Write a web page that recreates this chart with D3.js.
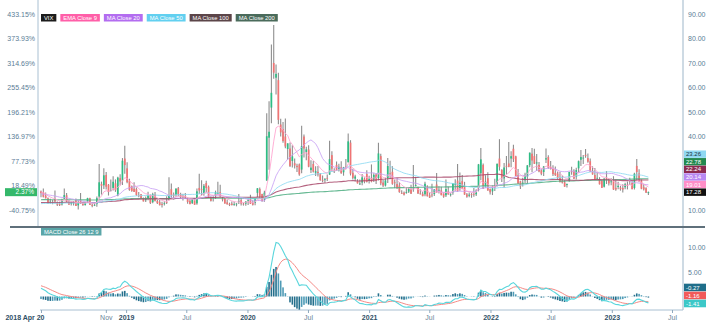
<!DOCTYPE html>
<html>
<head>
<meta charset="utf-8">
<script src="https://cdn.jsdelivr.net/npm/d3@7"></script>
<style>
body { margin: 0; background: #fff; }
svg { display: block; font-family: "Liberation Sans", Arial, sans-serif; }
.axis text { fill: #5b7d96; font-size: 7px; }
.axis path, .axis line { stroke: none; }
</style>
</head>
<body>
<svg id="chart" width="715" height="329"></svg>
<script>
// weekly VIX bars, first bar on this date, one bar every 7 days
var startDate = "2018-04-20";

var opens = [
  17.6,17.3,15.9,14.8,13.0,13.3,14.6,13.2,12.5,12.3,14.6,16.0,13.0,12.8,12.9,14.0,11.9,14.0,12.6,12.0,13.5,14.8,12.1,11.9,12.4,15.5,20.6,20.1,24.3,20.3,17.9,19.0,20.9,16.0,23.0,22.0,31.0,
  27.0,21.9,19.7,18.7,18.5,16.0,16.4,14.8,14.0,14.5,15.9,13.2,16.3,13.7,13.2,12.5,12.6,13.2,14.2,18.5,16.3,16.1,18.9,16.5,15.7,15.6,14.5,13.7,12.8,14.0,12.7,19.0,18.5,16.8,21.0,19.5,15.2,14.9,16.0,16.5,17.3,14.6,14.6,13.1,12.5,12.6,12.3,12.3,13.4,14.0,12.6,12.6,
  13.8,14.6,12.8,12.9,17.0,18.6,16.5,14.3,22.0,39.5,51.8,70.0,64.0,63.0,44.9,43.0,40.0,34.9,35.1,30.0,29.1,28.0,28.6,26.5,40.0,33.7,34.7,26.3,28.8,25.2,25.6,24.6,22.3,22.3,23.1,24.5,32.4,26.0,28.4,26.2,27.5,25.4,27.7,29.5,37.5,25.2,22.8,21.8,20.7,21.2,22.8,24.7,
  21.9,23.0,22.4,24.5,23.0,32.0,21.2,20.0,23.0,25.0,25.6,21.3,20.6,20.0,17.0,17.1,17.0,17.5,18.4,18.6,19.8,19.4,16.8,16.6,16.4,19.6,16.0,16.3,16.5,20.4,17.9,18.0,16.6,16.0,17.6,16.4,17.2,20.3,22.0,18.8,21.8,19.4,16.4,15.8,16.5,16.6,16.4,19.0,25.0,28.4,19.6,23.0,18.5,
  17.6,19.9,20.7,31.0,26.4,22.9,28.0,29.0,31.0,35.0,31.9,24.3,21.7,21.0,22.1,23.6,28.3,33.0,32.0,29.0,28.4,26.2,25.5,30.6,31.6,27.6,27.0,25.2,24.9,23.5,21.9,21.3,20.2,22.0,25.8,26.0,23.5,27.0,30.5,31.3,32.5,31.2,29.9,26.0,24.3,23.0,22.5,21.9,19.5,23.0,22.5,21.4,
  22.0,19.0,19.4,19.2,19.0,19.3,20.3,22.3,21.0,19.0,28.0,24.9,22.0,19.3,18.9,16.9
];
var highs = [
  18.0,18.8,17.1,15.1,14.6,14.1,18.0,13.5,13.4,14.6,18.8,16.9,14.0,13.5,13.7,14.7,14.0,16.9,13.1,13.4,15.0,15.0,13.3,12.9,15.5,28.8,21.6,27.0,25.5,20.6,22.5,23.8,22.5,23.6,24.6,31.2,36.2,
  29.5,22.8,20.0,21.3,19.2,17.3,16.5,15.1,15.5,17.4,16.3,17.0,17.3,14.2,14.1,13.4,13.6,15.6,23.4,20.8,17.1,18.9,19.4,17.0,16.6,16.9,15.0,14.6,14.8,14.4,18.8,24.8,22.1,20.6,21.9,20.0,15.6,15.6,17.9,21.5,20.3,15.3,15.0,14.3,13.0,13.5,13.4,12.8,16.5,15.2,12.9,13.7,
  15.0,16.2,14.0,14.8,19.0,19.2,16.6,17.9,49.5,54.4,77.6,85.5,69.4,66.0,47.2,45.9,47.3,37.2,37.6,36.4,31.0,28.9,29.0,44.4,40.8,35.8,36.4,30.3,30.0,27.9,28.0,25.1,24.1,23.1,24.5,38.3,34.0,27.0,29.8,28.9,29.9,27.6,30.8,41.2,38.5,26.8,24.4,22.6,22.4,24.7,23.3,26.2,
  24.0,28.6,25.0,25.0,37.5,33.0,22.2,23.2,31.2,30.1,27.9,22.4,23.1,21.3,18.1,17.6,19.2,19.2,20.3,28.4,23.6,19.5,18.5,17.4,21.5,20.1,17.1,20.7,18.6,25.1,19.7,19.5,17.1,22.5,19.5,16.9,21.0,22.6,28.8,25.3,24.3,21.5,16.9,17.1,16.9,19.0,18.5,28.8,35.3,29.0,24.2,25.4,18.8,
  20.0,22.8,29.0,38.9,26.6,29.2,32.0,37.8,34.0,36.6,32.1,26.7,21.9,23.2,25.2,28.4,33.5,35.3,35.0,32.9,29.6,26.6,28.0,35.1,32.3,30.0,28.3,27.8,25.7,25.6,24.1,22.1,20.8,25.6,27.7,26.6,27.2,30.2,34.5,32.5,34.9,33.1,31.0,27.8,27.1,25.5,23.4,22.3,23.0,25.9,22.9,23.0,
  23.8,22.0,21.5,19.9,20.5,21.1,21.6,23.2,21.8,25.2,30.8,26.6,22.4,20.5,19.3,17.6
];
var lows = [
  15.2,15.1,14.7,12.6,12.6,12.3,12.7,11.6,11.6,11.8,14.4,13.3,12.1,11.8,11.8,11.6,10.2,12.4,11.7,11.8,12.9,12.0,11.1,11.6,11.3,14.6,16.3,18.6,18.4,15.9,17.6,18.0,17.4,15.6,20.1,20.2,24.8,
  20.9,17.9,17.5,17.3,15.8,15.2,14.3,13.5,13.3,14.0,12.5,12.8,13.5,12.5,11.8,11.0,11.8,12.4,14.0,14.9,14.3,15.4,15.6,14.9,13.9,14.8,12.6,12.3,12.4,12.1,12.1,16.5,15.9,15.8,17.2,14.9,13.5,13.5,14.5,16.2,15.4,13.5,12.6,12.2,11.6,11.8,11.7,11.5,12.5,11.8,11.8,11.7,
  12.0,12.4,11.8,11.9,15.3,14.7,13.4,13.4,21.9,26.4,45.4,63.6,57.1,45.0,40.0,37.5,35.2,30.5,27.6,27.3,26.9,25.5,24.0,25.0,31.4,30.3,27.5,25.1,25.3,23.9,23.7,21.9,21.3,21.1,21.8,24.3,25.6,25.1,25.9,25.7,24.8,24.0,26.6,29.4,24.1,22.4,21.6,20.8,20.2,20.1,20.9,21.2,
  20.8,21.3,21.4,20.6,22.0,20.1,19.4,19.6,21.0,22.6,20.3,18.9,18.7,17.0,16.5,15.9,16.6,16.9,16.5,17.5,19.6,16.5,16.3,15.6,15.6,15.5,14.9,15.2,15.7,17.0,16.7,15.9,15.0,15.3,16.2,15.5,16.2,17.9,17.5,17.9,18.5,16.2,15.0,15.2,15.0,15.4,15.7,17.6,22.1,18.6,19.1,17.9,16.3,
  16.1,17.8,19.6,26.1,21.4,19.1,24.5,27.4,27.4,29.6,23.8,20.6,18.6,19.6,20.9,20.6,27.4,25.4,28.8,25.9,25.4,24.2,23.9,29.2,26.8,26.5,23.9,23.9,22.3,21.3,20.8,19.5,19.2,21.5,24.4,22.7,22.4,25.4,28.0,28.8,31.3,29.3,25.5,24.4,22.2,22.4,20.4,19.0,19.2,20.6,20.0,20.1,
  18.2,17.9,18.5,17.9,17.1,18.5,18.4,20.2,18.5,18.4,22.0,21.3,18.5,18.0,16.9,16.1
];
var closes = [
  16.88,15.41,14.77,12.65,13.42,13.22,13.46,12.18,11.98,13.77,16.09,13.37,12.18,12.86,13.03,11.64,13.16,12.64,11.99,12.86,14.88,12.07,11.68,12.12,14.82,21.31,19.89,24.16,19.51,17.36,18.14,21.52,18.07,23.23,21.63,30.11,28.34,
  21.38,18.19,17.80,17.42,16.14,15.72,14.91,13.51,14.63,16.05,12.88,16.48,13.71,12.82,12.01,12.09,12.73,12.87,16.04,15.96,15.85,18.71,16.30,15.28,15.40,15.08,13.28,12.39,14.45,12.16,17.61,17.97,18.47,19.87,18.98,15.00,13.74,15.32,17.22,17.04,15.58,14.25,12.65,12.30,12.07,12.05,12.34,12.62,13.62,12.63,12.51,13.43,
  14.02,12.56,12.10,14.56,18.84,15.47,13.68,17.08,40.11,41.94,57.83,66.04,65.54,46.80,41.67,38.15,35.93,37.19,27.98,31.89,28.16,27.51,24.52,36.09,35.12,34.73,27.68,27.29,25.68,25.84,24.46,22.21,22.05,22.54,22.96,30.75,26.87,25.83,26.38,27.63,25.00,27.41,27.55,38.02,24.86,23.10,23.70,20.84,20.79,23.31,21.57,21.53,
  22.75,21.56,24.34,21.91,33.09,20.87,19.97,22.05,27.95,24.66,20.69,20.95,18.86,17.33,16.69,16.25,17.33,18.61,16.69,18.81,20.15,16.76,16.42,15.65,20.70,15.62,15.07,16.18,18.45,17.20,18.24,16.15,15.45,18.56,16.39,16.41,20.95,20.81,17.75,21.15,18.77,16.30,15.43,16.26,16.48,16.29,17.91,28.62,30.67,18.69,21.57,17.96,17.22,
  18.76,19.19,28.85,27.66,23.22,27.36,27.75,27.59,31.98,30.75,23.87,20.81,19.63,21.16,24.37,28.21,33.40,30.19,28.87,29.43,25.72,24.79,27.75,31.13,27.23,26.70,24.64,24.23,23.03,21.33,21.15,19.53,20.60,25.56,25.47,22.79,26.30,29.92,31.62,31.36,32.02,29.69,25.75,24.55,22.52,23.12,20.50,19.06,22.83,22.62,20.87,21.67,
  18.35,18.35,19.85,18.51,18.33,20.53,20.02,21.67,18.49,24.80,25.51,21.74,18.70,18.40,17.07,17.28
];

// average level of the weeks before the first bar (warm-up for the averages)
var priorMA = { 20: 16.5, 50: 12.5, 100: 13.0, 200: 14.2 };
var priorEma9 = 17.5;
var priorMacd = [17.0, 15.2, 2.3]; // ema12, ema26, signal

var priceTicks = [10, 40, 50, 60, 70, 80, 90];
var pctTicks = [-40.75, 18.49, 77.73, 136.97, 196.21, 255.45, 314.69, 373.93, 433.15];
var macdTicks = [5, 10];

var timeTickDates = ["2018-04-20","2018-11-01","2019-01-01","2019-07-01","2020-01-01","2020-07-01","2021-01-01","2021-07-01","2022-01-01","2022-07-01","2023-01-01","2023-07-01"];
var timeTickLabels = ["2018 Apr 20","Nov","2019","Jul","2020","Jul","2021","Jul","2022","Jul","2023","Jul"];

var legendNames = ["VIX","EMA Close 9","MA Close 20","MA Close 50","MA Close 100","MA Close 200"];
var legendColors = ["#1c1c1c","#ff5fa8","#b36df0","#62d0f0","#5c4549","#4a6b5b"];

var lastLabels = ["23.26","22.78","22.24","20.14","19.01","17.28"];
var lastColors = ["#8fd8f2","#23894f","#8c2b50","#b989f2","#ff8fc8","#111111"];
var lastText = ["#1a3444","#fff","#fff","#fff","#fff","#fff"];

var macdLastLabels = ["-0.27","-1.16","-1.41"];
var macdLastColors = ["#1f6e8a","#f25a5a","#3cc8c8"];

// ---------- layout ----------
var left = 38, right = 683;
var mainBottom = 226, macdTop = 228, macdBottom = 310;

var svg = d3.select("#chart");
var parse = d3.utcParse("%Y-%m-%d");
var t0 = parse(startDate);
var bars = closes.map(function (c, i) {
  return { date: d3.utcDay.offset(t0, 7 * i), o: opens[i], h: highs[i], l: lows[i], c: c };
});

var x = d3.scaleUtc()
  .domain([parse("2018-04-20"), parse("2023-07-01")])
  .range([41, 672]);
var y = d3.scaleLinear().domain([10, 90]).range([210, 14]);
var base = closes[0];
var yPct = d3.scaleLinear().domain([(10 / base - 1) * 100, (90 / base - 1) * 100]).range([210, 14]);
var yM = d3.scaleLinear().domain([0, 10]).range([296.5, 247]);

// ---------- indicators ----------
function sma(n) {
  return closes.map(function (c, i) {
    var s = 0;
    for (var j = i - n + 1; j <= i; j++) s += j < 0 ? priorMA[n] : closes[j];
    return s / n;
  });
}
function ema(values, n, seed) {
  var k = 2 / (n + 1), e = seed;
  return values.map(function (v) { e = v * k + e * (1 - k); return e; });
}
var ema9 = ema(closes, 9, priorEma9);
var ma20 = sma(20), ma50 = sma(50), ma100 = sma(100), ma200 = sma(200);
var e12 = ema(closes, 12, priorMacd[0]);
var e26 = ema(closes, 26, priorMacd[1]);
var macd = e12.map(function (v, i) { return v - e26[i]; });
var signal = ema(macd, 9, priorMacd[2]);
var hist = macd.map(function (v, i) { return v - signal[i]; });

// ---------- clips ----------
var defs = svg.append("defs");
defs.append("clipPath").attr("id", "clipMain").append("rect")
  .attr("x", left).attr("y", 0).attr("width", right - left).attr("height", mainBottom);
defs.append("clipPath").attr("id", "clipMacd").append("rect")
  .attr("x", left).attr("y", macdTop).attr("width", right - left).attr("height", macdBottom - macdTop);

// ---------- main pane ----------
var main = svg.append("g").attr("clip-path", "url(#clipMain)");

main.selectAll("line.wick").data(bars).enter().append("line")
  .attr("class", "wick")
  .attr("x1", function (d) { return x(d.date); })
  .attr("x2", function (d) { return x(d.date); })
  .attr("y1", function (d) { return y(d.h); })
  .attr("y2", function (d) { return y(d.l); })
  .attr("stroke", "#8e8e8e")
  .attr("stroke-width", 1.1);

main.selectAll("rect.body").data(bars).enter().append("rect")
  .attr("class", "body")
  .attr("x", function (d) { return x(d.date) - 0.85; })
  .attr("width", 1.7)
  .attr("y", function (d) { return y(Math.max(d.o, d.c)); })
  .attr("height", function (d) { return Math.max(0.8, Math.abs(y(d.o) - y(d.c))); })
  .attr("fill", function (d) { return d.c >= d.o ? "#2dbd84" : "#f07474"; });

var maSeries = [
  { v: ma200, color: "#4fae82", w: 1.1 },
  { v: ma100, color: "#a8486a", w: 1.1 },
  { v: ma50, color: "#8fdaf2", w: 1 },
  { v: ma20, color: "#c9a2f5", w: 1 },
  { v: ema9, color: "#ffa2cf", w: 1 }
];
maSeries.forEach(function (s) {
  var line = d3.line()
    .x(function (d, i) { return x(bars[i].date); })
    .y(function (d) { return y(d); });
  main.append("path")
    .attr("d", line(s.v))
    .attr("fill", "none")
    .attr("stroke", s.color)
    .attr("stroke-width", s.w)
    .attr("opacity", 0.85);
});

// ---------- MACD pane ----------
var mp = svg.append("g").attr("clip-path", "url(#clipMacd)");
mp.selectAll("rect.hist").data(hist).enter().append("rect")
  .attr("class", "hist")
  .attr("x", function (d, i) { return x(bars[i].date) - 0.8; })
  .attr("width", 1.6)
  .attr("y", function (d) { return Math.min(yM(d), yM(0)); })
  .attr("height", function (d) { return Math.abs(yM(d) - yM(0)); })
  .attr("fill", function (d, i) {
    var grow = i > 0 && Math.abs(d) >= Math.abs(hist[i - 1]);
    return grow ? "#246f8c" : "#4f9bb6";
  });

var mline = d3.line()
  .x(function (d, i) { return x(bars[i].date); })
  .y(function (d) { return yM(d); });
mp.append("path").attr("d", mline(signal)).attr("fill", "none")
  .attr("stroke", "#f58a86").attr("stroke-width", 1);
mp.append("path").attr("d", mline(macd)).attr("fill", "none")
  .attr("stroke", "#5ad6dc").attr("stroke-width", 1.1);

// ---------- frame ----------
svg.append("line").attr("x1", left).attr("x2", left).attr("y1", 0).attr("y2", mainBottom)
  .attr("stroke", "#a9c0d2").attr("stroke-width", 1);
svg.append("line").attr("x1", right).attr("x2", right).attr("y1", 0).attr("y2", macdBottom)
  .attr("stroke", "#9db6c9").attr("stroke-width", 1);
svg.append("line").attr("x1", 10).attr("x2", 705).attr("y1", 227).attr("y2", 227)
  .attr("stroke", "#5f707b").attr("stroke-width", 2);
svg.append("line").attr("x1", 40).attr("x2", right).attr("y1", macdBottom).attr("y2", macdBottom)
  .attr("stroke", "#a9c0d2").attr("stroke-width", 1);

// ---------- axes ----------
svg.append("g").attr("class", "axis")
  .attr("transform", "translate(" + right + ",0)")
  .call(d3.axisRight(y).tickValues(priceTicks).tickSize(0).tickPadding(5).tickFormat(d3.format(".2f")));

svg.append("g").attr("class", "axis")
  .attr("transform", "translate(" + left + ",0)")
  .call(d3.axisLeft(yPct).tickValues(pctTicks).tickSize(0).tickPadding(3)
    .tickFormat(function (d) { return d.toFixed(2) + "%"; }));

svg.append("g").attr("class", "axis")
  .attr("transform", "translate(" + right + ",0)")
  .call(d3.axisRight(yM).tickValues(macdTicks).tickSize(0).tickPadding(5).tickFormat(d3.format(".2f")));

var xAxis = svg.append("g").attr("class", "axis")
  .attr("transform", "translate(0," + macdBottom + ")")
  .call(d3.axisBottom(x).tickValues(timeTickDates.map(parse)).tickSize(3).tickPadding(2)
    .tickFormat(function (d, i) { return timeTickLabels[i]; }));
xAxis.selectAll("line").style("stroke", "#8fa9bd");
xAxis.selectAll("text")
  .style("font-weight", function (d, i) { return /^\d{4}/.test(timeTickLabels[i]) ? "bold" : "normal"; })
  .style("fill", function (d, i) { return /^\d{4}/.test(timeTickLabels[i]) ? "#2f4f66" : "#6a8498"; });
xAxis.selectAll("text").filter(function (d, i) { return i === 0; })
  .attr("text-anchor", "end").attr("dx", 3);

// ---------- legends ----------
function legendBox(g, lx, ly, label, color, size) {
  var t = g.append("text").attr("x", lx + 3).attr("y", ly + 5.6)
    .attr("fill", "#fff").attr("font-size", size).text(label);
  var w = t.node().getComputedTextLength() + 6;
  g.insert("rect", "text").attr("x", lx).attr("y", ly).attr("width", w).attr("height", 7.5)
    .attr("fill", color);
  return w;
}
var lg = svg.append("g");
var lx = 41;
legendNames.forEach(function (n, i) {
  var g = lg.append("g");
  lx += legendBox(g, lx, 14, n, legendColors[i], "5.8px") + 4;
});
legendBox(svg.append("g"), 41, 228, "MACD Close 26 12 9", "#5aa6a8", "5.8px");

// ---------- last value tags ----------
// tags are pushed upward so they do not overlap, lowest one stays at its value
function stackTags(ys, gap) {
  var order = ys.map(function (v, i) { return i; })
    .sort(function (a, b) { return ys[b] - ys[a]; });
  var pos = [], prev = Infinity;
  order.forEach(function (i) {
    var yy = Math.min(ys[i], prev - gap);
    pos[i] = yy;
    prev = yy;
  });
  return pos;
}
var mainPos = stackTags(lastLabels.map(function (s) { return y(+s); }), 7.6);
lastLabels.forEach(function (s, i) {
  var cy = mainPos[i];
  svg.append("rect").attr("x", right + 1).attr("y", cy - 3.7).attr("width", 22).attr("height", 7.4)
    .attr("fill", lastColors[i]);
  svg.append("text").attr("x", right + 3).attr("y", cy + 2.1).attr("font-size", "6px")
    .attr("fill", lastText[i]).text(s);
});
var macdPos = stackTags(macdLastLabels.map(function (s) { return yM(+s); }), 8);
macdLastLabels.forEach(function (s, i) {
  var cy = macdPos[i];
  svg.append("rect").attr("x", right + 1).attr("y", cy - 3.8).attr("width", 22).attr("height", 7.6)
    .attr("fill", macdLastColors[i]);
  svg.append("text").attr("x", right + 3).attr("y", cy + 2.1).attr("font-size", "6px")
    .attr("fill", "#fff").text(s);
});

// left percent tag for the last bar
var lastBar = bars[bars.length - 1];
var pct = (lastBar.c / base - 1) * 100;
var pcy = y(lastBar.c);
svg.append("rect").attr("x", 5).attr("y", pcy - 4).attr("width", 32).attr("height", 8)
  .attr("fill", lastBar.c >= lastBar.o ? "#34b86a" : "#f07474");
svg.append("text").attr("x", 34).attr("y", pcy + 2.3).attr("text-anchor", "end")
  .attr("font-size", "6.5px").attr("fill", "#fff").text(pct.toFixed(2) + "%");
</script>
</body>
</html>
